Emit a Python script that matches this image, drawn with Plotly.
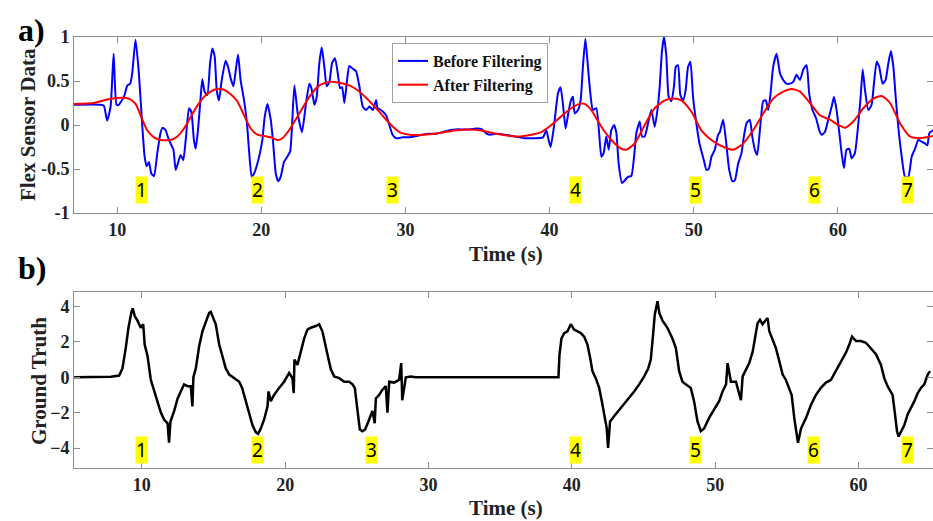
import plotly.graph_objects as go

# ---------------- data ----------------
raw_t = [7.0, 8.8, 9.07, 9.3, 9.54, 9.75, 9.95, 10.1, 10.46, 10.7, 10.9, 11.04, 11.27, 11.5, 11.74, 11.9,
         12.04, 12.2, 12.36, 12.55, 12.78, 13.0, 13.15, 13.36, 13.5, 13.7, 13.9, 14.05, 14.2, 14.4, 14.58,
         14.75, 14.98, 15.14, 15.32, 15.44, 15.6, 15.79, 15.9, 16.06, 16.25, 16.44, 16.6, 16.76, 16.9, 17.06,
         17.25, 17.52, 17.69, 17.87, 18.06, 18.2, 18.38, 18.56, 18.8, 19.0, 19.14, 19.33, 19.5, 19.72, 19.9,
         20.07, 20.23, 20.42, 20.65, 20.8, 21.0, 21.16, 21.34, 21.57, 21.8, 22.0, 22.29, 22.52, 22.82, 23.1,
         23.33, 23.47, 23.68, 23.84, 24.02, 24.19, 24.37, 24.53, 24.72, 24.9, 25.11, 25.3, 25.46, 25.6, 25.76,
         25.92, 26.1, 26.34, 26.57, 26.8, 27.03, 27.26, 27.5, 27.73, 27.96, 28.07, 28.3, 28.65, 28.88, 29.1,
         29.35, 29.81, 30.27, 30.74, 31.2, 31.66, 32.13, 32.6, 33.05, 33.5, 34.0, 34.44, 34.9, 35.25, 35.6,
         35.83, 36.3, 36.87, 37.57, 38.26, 38.96, 39.54, 39.77, 39.93, 40.07, 40.3, 40.58, 40.76, 40.93,
         41.11, 41.27, 41.46, 41.62, 41.74, 41.97, 42.15, 42.31, 42.48, 42.66, 42.85, 43.0, 43.24, 43.42,
         43.59, 43.75, 43.93, 44.1, 44.28, 44.47, 44.63, 44.79, 45.02, 45.21, 45.44, 45.67, 45.86, 46.02,
         46.25, 46.41, 46.6, 46.83, 47.06, 47.29, 47.48, 47.64, 47.8, 47.94, 48.1, 48.26, 48.45, 48.63,
         48.75, 48.91, 49.07, 49.26, 49.44, 49.6, 49.77, 49.95, 50.18, 50.4, 50.7, 50.88, 51.04, 51.23,
         51.46, 51.69, 51.81, 52.04, 52.23, 52.46, 52.69, 52.85, 53.08, 53.31, 53.48, 53.66, 53.89, 54.06,
         54.24, 54.4, 54.59, 54.82, 55.0, 55.17, 55.33, 55.51, 55.75, 55.98, 56.21, 56.44, 56.67, 56.9,
         57.13, 57.37, 57.6, 57.83, 58.01, 58.24, 58.48, 58.71, 58.87, 59.1, 59.33, 59.57, 59.73, 59.91,
         60.1, 60.26, 60.42, 60.6, 60.79, 60.95, 61.18, 61.42, 61.58, 61.72, 61.88, 62.11, 62.34, 62.5,
         62.69, 62.87, 63.1, 63.31, 63.5, 63.68, 63.85, 64.01, 64.19, 64.43, 64.66, 64.89, 65.12, 65.35,
         65.58, 65.81, 66.05, 66.21, 66.35, 66.62]
raw_v = [0.23, 0.23, 0.22, 0.05, 0.21, 0.81, 0.23, 0.23, 0.32, 0.45, 0.47, 0.59, 0.97, 0.59, -0.02, -0.36,
         -0.47, -0.42, -0.55, -0.58, -0.32, -0.09, -0.03, -0.06, -0.13, -0.21, -0.28, -0.51, -0.44, -0.34, -0.40,
         -0.17, 0.19, 0.15, -0.17, -0.27, -0.06, 0.32, 0.52, 0.38, 0.34, 0.70, 0.87, 0.78, 0.40, 0.28,
         0.51, 0.73, 0.66, 0.53, 0.44, 0.59, 0.80, 0.51, 0.28, 0.02, -0.28, -0.59, -0.55, -0.44, -0.32,
         -0.17, 0.09, 0.24, 0.06, -0.17, -0.55, -0.64, -0.59, -0.42, -0.36, -0.30, 0.45, 0.13, -0.08, 0.25,
         0.47, 0.42, 0.23, 0.32, 0.70, 0.88, 0.66, 0.44, 0.49, 0.70, 0.76, 0.59, 0.42, 0.43, 0.25,
         0.47, 0.67, 0.64, 0.61, 0.44, 0.21, 0.17, 0.21, 0.17, 0.28, 0.19, 0.17, 0.11, 0.0, -0.11,
         -0.15, -0.14, -0.14, -0.125, -0.11, -0.10, -0.10, -0.08, -0.06, -0.05, -0.05, -0.05, -0.04, -0.045, -0.095,
         -0.11, -0.10, -0.11, -0.13, -0.15, -0.15, -0.14, -0.06, -0.17, -0.25, -0.02, 0.36, 0.43, 0.23,
         -0.04, 0.11, 0.27, 0.32, 0.13, 0.17, 0.28, 0.66, 0.98, 0.66, 0.32, 0.17, 0.19, -0.06,
         -0.36, -0.32, -0.13, -0.28, -0.06, 0.0, -0.09, -0.44, -0.66, -0.63, -0.59, -0.58, -0.36, -0.09,
         0.04, -0.13, -0.13, 0.02, 0.17, -0.02, 0.17, 0.44, 0.85, 1.0, 0.78, 0.32, 0.27, 0.44,
         0.66, 0.68, 0.34, 0.28, 0.40, 0.66, 0.72, 0.32, 0.02, -0.21, -0.40, -0.51, -0.50, -0.36,
         -0.28, -0.11, -0.08, 0.06, -0.17, -0.51, -0.64, -0.63, -0.44, -0.32, -0.13, 0.02, 0.06, -0.13,
         -0.28, -0.34, -0.06, 0.27, 0.28, 0.17, 0.36, 0.66, 0.81, 0.59, 0.51, 0.47, 0.47, 0.49,
         0.57, 0.51, 0.63, 0.68, 0.36, 0.17, 0.08, -0.06, -0.11, -0.08, 0.06, 0.21, 0.32, 0.17,
         -0.09, -0.32, -0.49, -0.28, -0.27, -0.38, -0.32, 0.02, 0.32, 0.63, 0.40, 0.17, 0.23, 0.47,
         0.72, 0.66, 0.47, 0.51, 0.70, 0.84, 0.66, 0.32, -0.02, -0.36, -0.59, -0.59, -0.36, -0.27,
         -0.17, -0.19, -0.21, -0.23, -0.09, -0.06]

filt_t = [7.0, 8.38, 9.3, 10.23, 10.8, 11.27, 11.62, 12.08, 12.55, 13.0, 13.7, 14.17, 14.63, 15.09, 15.56,
          16.02, 16.48, 16.94, 17.4, 17.87, 18.33, 18.8, 19.26, 19.72, 20.19, 20.65, 21.11, 21.46, 21.92,
          22.63, 23.33, 24.02, 24.72, 25.41, 26.1, 26.8, 27.5, 28.19, 28.88, 29.58, 30.27, 31.2, 32.36,
          33.5, 34.44, 35.37, 36.3, 37.8, 38.73, 39.42, 40.12, 40.81, 41.5, 42.08, 42.43, 42.89, 43.59,
          44.28, 44.98, 45.32, 45.9, 46.6, 47.29, 47.99, 48.56, 49.14, 49.84, 50.53, 51.23, 51.81, 52.74,
          53.43, 54.12, 54.82, 55.51, 56.21, 56.79, 57.37, 58.06, 58.75, 59.45, 60.03, 60.49, 61.07, 61.76,
          62.46, 63.04, 63.62, 64.31, 65.0, 65.7, 66.62]
filt_v = [0.24, 0.25, 0.29, 0.31, 0.30, 0.24, 0.11, -0.06, -0.14, -0.17, -0.17, -0.13, -0.04, 0.09, 0.22,
          0.32, 0.38, 0.41, 0.40, 0.35, 0.27, 0.11, -0.04, -0.11, -0.125, -0.14, -0.17, -0.15, -0.06,
          0.13, 0.32, 0.45, 0.49, 0.48, 0.45, 0.38, 0.27, 0.15, 0.02, -0.08, -0.11, -0.11, -0.09,
          -0.06, -0.05, -0.065, -0.10, -0.13, -0.11, -0.08, 0.0, 0.10, 0.19, 0.24, 0.24, 0.17, -0.02,
          -0.17, -0.27, -0.28, -0.21, 0.0, 0.19, 0.28, 0.30, 0.28, 0.15, -0.06, -0.17, -0.23, -0.28,
          -0.21, -0.06, 0.13, 0.30, 0.38, 0.41, 0.38, 0.25, 0.11, 0.06, 0.0, -0.03, 0.04, 0.19,
          0.30, 0.33, 0.25, 0.02, -0.13, -0.15, -0.125]

gt_t = [5.28, 7.84, 8.42, 8.65, 8.88, 9.07, 9.28, 9.37, 9.51, 9.7, 9.93, 10.1, 10.2, 10.4, 10.63, 10.86,
        11.1, 11.33, 11.56, 11.8, 11.9, 12.0, 12.26, 12.5, 12.72, 12.95, 13.19, 13.42, 13.53, 13.6, 13.77,
        14.0, 14.23, 14.47, 14.7, 14.81, 15.0, 15.16, 15.4, 15.63, 15.86, 16.1, 16.44, 16.8, 17.0, 17.26,
        17.5, 17.72, 17.95, 18.12, 18.3, 18.53, 18.77, 18.84, 19.0, 19.23, 19.58, 19.93, 20.28, 20.51,
        20.6, 20.65, 20.86, 21.1, 21.33, 21.56, 21.79, 22.14, 22.37, 22.6, 22.77, 22.95, 23.19, 23.42,
        23.77, 24.12, 24.47, 24.7, 24.86, 24.98, 25.1, 25.21, 25.4, 25.58, 25.81, 26.09, 26.25, 26.33,
        26.56, 26.79, 27.02, 27.14, 27.26, 27.6, 27.95, 28.1, 28.17, 28.42, 28.77, 29.12, 39.07, 39.14,
        39.28, 39.47, 39.7, 39.93, 40.16, 40.4, 40.63, 40.86, 41.09, 41.28, 41.44, 41.67, 41.91, 42.14,
        42.3, 42.44, 42.53, 42.67, 42.95, 43.3, 43.65, 44.0, 44.35, 44.7, 45.05, 45.33, 45.51, 45.67,
        45.79, 45.98, 46.1, 46.33, 46.67, 47.02, 47.26, 47.49, 47.72, 47.95, 48.3, 48.53, 48.77, 49.0,
        49.23, 49.58, 49.93, 50.28, 50.52, 50.76, 50.87, 51.1, 51.45, 51.8, 51.92, 52.15, 52.38, 52.62,
        52.8, 52.96, 53.13, 53.31, 53.5, 53.66, 53.78, 54.01, 54.24, 54.48, 54.71, 54.94, 55.17, 55.34,
        55.52, 55.69, 55.78, 55.99, 56.34, 56.69, 57.03, 57.38, 57.73, 58.08, 58.43, 58.78, 59.13,
        59.36, 59.55, 59.83, 60.17, 60.52, 60.87, 61.22, 61.57, 61.8, 62.03, 62.27, 62.38, 62.55, 62.69,
        62.8, 62.96, 63.2, 63.43, 63.66, 63.9, 64.13, 64.36, 64.59, 64.83, 65.0]
gt_v = [0.0, 0.03, 0.1, 0.5, 1.65, 2.8, 3.7, 3.9, 3.45, 3.2, 2.8, 3.0, 1.85, 1.2, -0.15, -0.8,
        -1.45, -2.0, -2.4, -2.6, -3.7, -2.5, -1.9, -1.2, -0.8, -0.4, -0.5, -0.5, -1.65, 0.0, 0.5,
        1.75, 2.6, 3.2, 3.65, 3.7, 3.25, 3.0, 1.85, 1.1, 0.5, 0.15, -0.05, -0.25, -0.6, -1.35,
        -2.1, -2.7, -3.1, -3.2, -2.9, -2.4, -1.65, -0.8, -1.35, -1.0, -0.6, -0.25, 0.25, -0.05,
        -0.9, 1.0, 0.7, 1.5, 2.2, 2.7, 2.8, 2.9, 3.0, 2.6, 2.05, 1.3, 0.45, 0.05,
        -0.05, -0.25, -0.25, -0.4, -0.6, -1.35, -2.4, -2.95, -3.05, -2.95, -2.5, -1.9, -2.6, -1.2,
        -1.0, -0.7, -0.5, -2.0, -0.25, -0.3, -0.15, 0.8, -1.3, 0.0, 0.05, 0.0, 0.0, 1.28,
        2.2, 2.5, 2.6, 3.0, 2.7, 2.6, 2.5, 2.3, 1.85, 1.1, 0.35, -0.05, -0.6, -1.55,
        -2.3, -2.9, -4.0, -2.5, -2.2, -1.85, -1.55, -1.2, -0.8, -0.4, 0.05, 0.5, 1.0, 2.4,
        3.55, 4.3, 3.65, 3.2, 2.8, 2.2, 1.65, 0.35, -0.25, -0.4, -0.6, -1.35, -2.5, -3.05,
        -2.9, -2.3, -1.85, -1.35, -0.8, -0.4, 0.8, -0.25, -0.25, -1.3, 0.05, 0.45, 0.8, 1.45,
        2.2, 3.05, 3.25, 3.0, 3.2, 3.35, 2.6, 2.1, 1.65, 0.9, 0.15, -0.15, -0.6, -1.0,
        -2.3, -3.25, -3.7, -2.9, -2.3, -1.55, -1.0, -0.6, -0.3, -0.15, 0.35, 0.9, 1.4,
        1.85, 2.3, 2.05, 2.05, 1.95, 1.65, 1.3, 0.7, -0.05, -0.5, -0.8, -1.0, -2.1, -3.05,
        -3.35, -3.05, -2.7, -2.1, -1.75, -1.35, -0.9, -0.6, -0.4, 0.15, 0.35]

event_labels = ["1", "2", "3", "4", "5", "6", "7"]
top_label_t = [11.67, 19.72, 29.1, 41.8, 50.1, 58.4, 64.8]
bottom_label_t = [10.0, 18.07, 26.0, 40.24, 48.6, 56.87, 63.4]

top_xticks = [10, 20, 30, 40, 50, 60]
top_yticks = [-1, -0.5, 0, 0.5, 1]
top_yticklabels = ["-1", "-0.5", "0", "0.5", "1"]
bot_xticks = [10, 20, 30, 40, 50, 60]
bot_yticks = [-4, -2, 0, 2, 4]

# ---------------- figure ----------------
SERIF = "Liberation Serif, Times New Roman, serif"
AX = "#8c8c8c"
W, H = 933, 521
PW = W - 74

fig = go.Figure()
fig.add_trace(go.Scatter(x=raw_t, y=raw_v, mode="lines", name="Before Filtering",
                         line=dict(color="#0000ff", width=2, shape="spline", smoothing=0.5),
                         xaxis="x", yaxis="y"))
fig.add_trace(go.Scatter(x=filt_t, y=filt_v, mode="lines", name="After Filtering",
                         line=dict(color="#ff0000", width=2, shape="spline", smoothing=0.6),
                         xaxis="x", yaxis="y"))
fig.add_trace(go.Scatter(x=gt_t, y=gt_v, mode="lines", name="Ground Truth", showlegend=False,
                         line=dict(color="#000000", width=2.5), xaxis="x2", yaxis="y2"))

tickfont = dict(family=SERIF, size=18, color="#222222", weight="bold")
common_ax = dict(showline=True, linecolor=AX, linewidth=1, mirror="ticks", ticks="inside",
                 ticklen=6, tickcolor=AX, showgrid=False, zeroline=False, tickfont=tickfont,
                 automargin=False)
title_font = dict(family=SERIF, size=21, color="#222222", weight="bold")

fig.update_layout(
    width=W, height=H,
    margin=dict(l=74, r=0, t=0, b=0, autoexpand=False),
    paper_bgcolor="white", plot_bgcolor="white",
    xaxis=dict(domain=[0, 1], range=[7.0, 66.6], tickvals=top_xticks, anchor="y", **common_ax),
    yaxis=dict(domain=[1 - 213 / H, 1 - 37 / H], range=[-1, 1], tickvals=top_yticks,
               ticktext=top_yticklabels, anchor="x", **common_ax),
    xaxis2=dict(domain=[0, 1], range=[5.27, 65.2], tickvals=bot_xticks, anchor="y2", **common_ax),
    yaxis2=dict(domain=[1 - 468 / H, 1 - 291.7 / H], range=[-5.13, 4.84], tickvals=bot_yticks,
                anchor="x2", **common_ax),
    legend=dict(x=(392 - 74) / PW, y=1 - 43 / H, xanchor="left", yanchor="top",
                bgcolor="white", bordercolor="#a0a0a0", borderwidth=1,
                font=dict(family=SERIF, size=16, color="#111111", weight="bold"),
                itemwidth=30, tracegroupgap=0),
    showlegend=True,
)

annotations = []
lab_font = dict(family="Noto Sans, Liberation Sans, sans-serif", size=19, color="black")
for lab, t in zip(event_labels, top_label_t):
    annotations.append(dict(x=t, y=-0.74, xref="x", yref="y", text=lab, showarrow=False,
                            bgcolor="#ffff00", borderpad=0, font=lab_font))
for lab, t in zip(event_labels, bottom_label_t):
    annotations.append(dict(x=t, y=-4.1, xref="x2", yref="y2", text=lab, showarrow=False,
                            bgcolor="#ffff00", borderpad=0, font=lab_font))
# panel letters
annotations.append(dict(x=(16 - 74) / PW, y=1 - 30 / H, xref="paper", yref="paper",
                        text="a)", showarrow=False, xanchor="left", yanchor="middle",
                        font=dict(family=SERIF, size=32, color="black", weight="bold")))
annotations.append(dict(x=(16 - 74) / PW, y=1 - 268 / H, xref="paper", yref="paper",
                        text="b)", showarrow=False, xanchor="left", yanchor="middle",
                        font=dict(family=SERIF, size=32, color="black", weight="bold")))
# axis titles
annotations.append(dict(x=(28 - 74) / PW, y=1 - 125 / H, xref="paper", yref="paper",
                        text="Flex Sensor Data", showarrow=False, textangle=-90,
                        xanchor="center", yanchor="middle", font=title_font))
annotations.append(dict(x=(39 - 74) / PW, y=1 - 381 / H, xref="paper", yref="paper",
                        text="Ground Truth", showarrow=False, textangle=-90,
                        xanchor="center", yanchor="middle", font=title_font))
annotations.append(dict(x=(506 - 74) / PW, y=1 - 254 / H, xref="paper", yref="paper",
                        text="Time (s)", showarrow=False, xanchor="center", yanchor="middle",
                        font=title_font))
annotations.append(dict(x=(506 - 74) / PW, y=1 - 508 / H, xref="paper", yref="paper",
                        text="Time (s)", showarrow=False, xanchor="center", yanchor="middle",
                        font=title_font))
fig.update_layout(annotations=annotations)

fig.write_html("out.html", config={"displayModeBar": False},
               post_script="document.body.style.margin='0';document.body.style.overflow='hidden';")
